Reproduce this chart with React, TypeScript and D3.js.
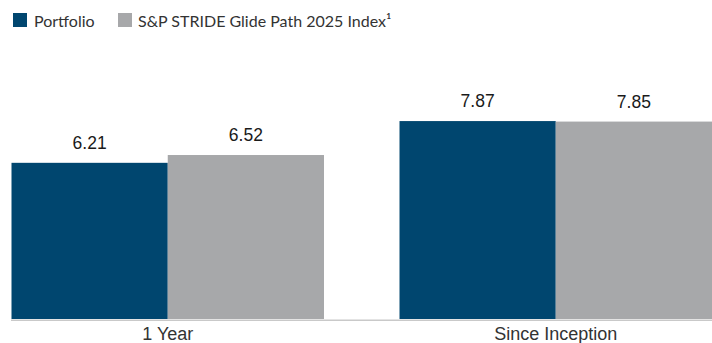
import React from "react";
import * as d3 from "d3";

const categories = ["1 Year", "Since Inception"];
const seriesNames = ["Portfolio", "S&P STRIDE Glide Path 2025 Index¹"];
const portfolioValues = [6.21, 7.87];
const indexValues = [6.52, 7.85];
const colors = ["#00466f", "#a7a8aa"];

const W = 712;
const H = 343;

export default function App() {
  const x0 = d3.scaleBand<string>().domain(categories).range([11.5, 712]).paddingInner(0.1946).paddingOuter(0);
  const x1 = d3.scaleBand<string>().domain(seriesNames).range([0, x0.bandwidth()]).padding(0);
  const y = d3.scaleLinear().domain([0, 10]).range([319, 67.5]);
  const fmt = d3.format(".2f");
  const series = [portfolioValues, indexValues];

  return (
    <svg width={W} height={H} style={{ position: "absolute", left: 0, top: 0, background: "#fff" }}>
      {/* legend */}
      <g>
        <rect x={13} y={13} width={14} height={14} fill={colors[0]} />
        <text x={34} y={27} fontFamily="Lato, 'Open Sans', sans-serif" fontSize={16} fill="#333">
          {seriesNames[0]}
        </text>
        <rect x={118} y={13} width={14} height={14} fill={colors[1]} />
        <text x={138} y={27} fontFamily="Lato, 'Open Sans', sans-serif" fontSize={16} fill="#333">
          {seriesNames[1]}
        </text>
      </g>
      {/* bars */}
      {categories.map((c, ci) => (
        <g key={c} transform={`translate(${x0(c)},0)`}>
          {seriesNames.map((s, si) => {
            const v = series[si][ci];
            const bx = x1(s)!;
            return (
              <g key={s}>
                <rect x={bx} y={y(v)} width={x1.bandwidth()} height={y(0) - y(v)} fill={colors[si]} />
                <text
                  x={bx + x1.bandwidth() / 2}
                  y={y(v) - 14}
                  textAnchor="middle"
                  fontFamily="'Liberation Sans', Arial, sans-serif"
                  fontSize={17.5}
                  fill="#1a1a1a"
                >
                  {fmt(v)}
                </text>
              </g>
            );
          })}
          <text
            x={x0.bandwidth() / 2}
            y={339.5}
            textAnchor="middle"
            fontFamily="'Liberation Sans', Arial, sans-serif"
            fontSize={18}
            fill="#333"
          >
            {c}
          </text>
        </g>
      ))}
      {/* axis line */}
      <line x1={11} x2={712} y1={320.2} y2={320.2} stroke="#c9c9c9" strokeWidth={1.5} />
    </svg>
  );
}
